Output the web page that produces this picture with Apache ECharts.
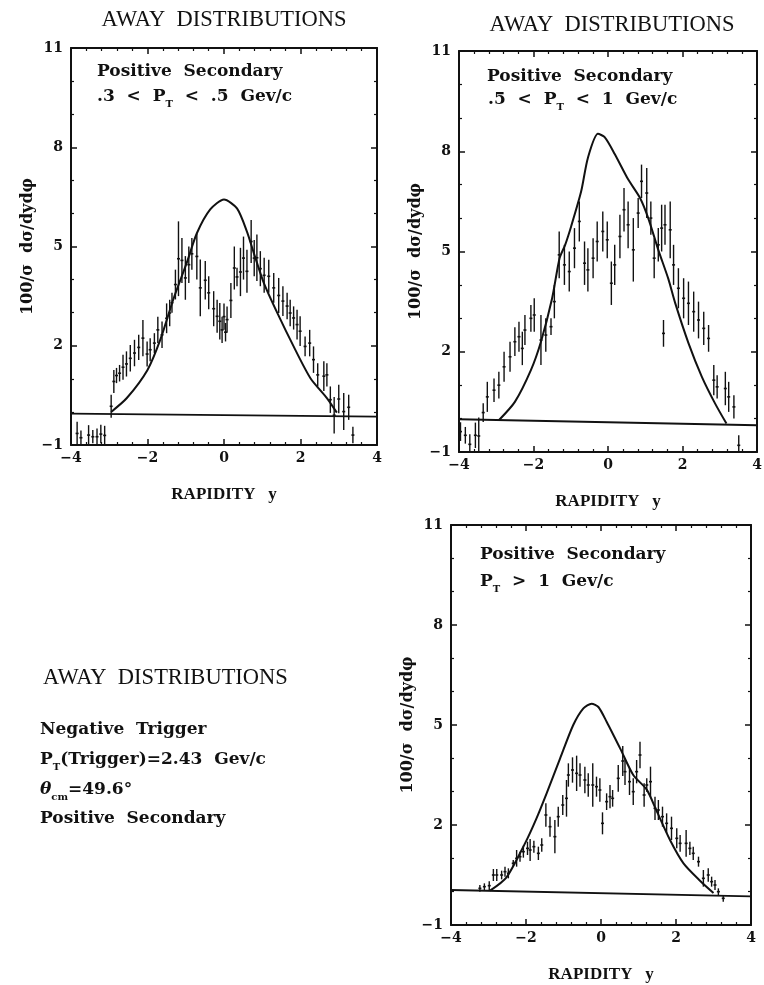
<!DOCTYPE html>
<html>
<head>
<meta charset="utf-8">
<script src="https://cdn.jsdelivr.net/npm/echarts@6/dist/echarts.min.js"></script>
<style>
  html, body { margin: 0; padding: 0; background: #fff; }
  #chart { width: 764px; height: 985px; }
</style>
</head>
<body>
<div id="chart"></div>
<script>
// axis ranges (shared by the three panels)
const xMin = -4, xMax = 4, xStep = 2;
const yMin = -1, yMax = 11, yStep = 3;

// panel 1: .3 < PT < .5
const p1X = [-3.84, -3.74, -3.54, -3.43, -3.32, -3.22, -3.12, -2.95, -2.88, -2.81, -2.73, -2.64, -2.55, -2.45, -2.34, -2.23, -2.12,
  -2.01, -1.93, -1.82, -1.73, -1.62, -1.5, -1.42, -1.36, -1.27, -1.19, -1.1, -1.01, -0.92, -0.84, -0.71, -0.62, -0.49, -0.4, -0.27, -0.18,
  -0.11, -0.05, 0.0, 0.04, 0.08, 0.18, 0.27, 0.34, 0.43, 0.51, 0.6, 0.71, 0.79, 0.86, 0.95, 1.05, 1.17, 1.3, 1.43, 1.54,
  1.65, 1.73, 1.82, 1.91, 1.99, 2.12, 2.24, 2.34, 2.45, 2.61, 2.69, 2.78, 2.88, 3.0, 3.13, 3.26, 3.37];
const p1Y = [-0.65, -0.78, -0.7, -0.75, -0.75, -0.67, -0.71, 0.17, 0.92, 1.1, 1.17, 1.35, 1.45, 1.62, 1.78, 1.95, 2.23,
  1.75, 1.88, 2.08, 2.48, 2.33, 2.83, 2.99, 3.3, 3.85, 4.63, 4.58, 4.05, 4.45, 4.78, 4.7, 3.75, 3.98, 3.6, 3.12, 2.89,
  2.74, 2.48, 2.88, 2.41, 2.79, 3.37, 4.35, 4.08, 4.23, 4.65, 4.25, 5.15, 4.65, 4.66, 4.33, 4.13, 4.1, 3.75, 3.52, 3.35,
  3.2, 2.99, 2.84, 2.64, 2.44, 1.98, 2.08, 1.58, 1.12, 1.08, 1.12, 0.37, -0.1, 0.39, 0.01, 0.14, -0.7];
const p1Err = [0.35, 0.22, 0.3, 0.2, 0.25, 0.28, 0.29, 0.35, 0.35, 0.23, 0.25, 0.38, 0.38, 0.4, 0.4, 0.38, 0.55,
  0.38, 0.35, 0.3, 0.4, 0.4, 0.45, 0.4, 0.3, 0.45, 1.13, 0.68, 0.66, 0.55, 0.48, 0.7, 0.86, 0.58, 0.5, 0.53, 0.5,
  0.55, 0.4, 0.4, 0.28, 0.4, 0.53, 0.65, 0.28, 0.73, 0.65, 0.65, 0.65, 0.55, 0.7, 0.53, 0.53, 0.5, 0.45, 0.53, 0.45,
  0.4, 0.4, 0.35, 0.45, 0.45, 0.3, 0.4, 0.4, 0.35, 0.45, 0.35, 0.4, 0.55, 0.43, 0.56, 0.38, 0.25];
const c1X = [-2.95, -2.54, -2.0, -1.66, -1.32, -0.97, -0.71, -0.36, 0.0, 0.34, 0.6, 0.78, 1.04, 1.39, 1.82, 2.26, 2.69, 2.95];
const c1Y = [0.0, 0.42, 1.27, 2.2, 3.42, 4.52, 5.4, 6.12, 6.42, 6.15, 5.45, 4.8, 3.9, 3.0, 1.98, 1.02, 0.42, -0.02];
const base1 = [-0.05, -0.14];

// panel 2: .5 < PT < 1
const p2X = [-3.96, -3.83, -3.71, -3.56, -3.47, -3.35, -3.24, -3.06, -2.93, -2.79, -2.63, -2.5, -2.39, -2.3, -2.23, -2.07, -1.98, -1.8, -1.67, -1.53,
  -1.44, -1.31, -1.17, -1.04, -0.9, -0.77, -0.63, -0.54, -0.4, -0.29, -0.14, -0.02, 0.09, 0.18, 0.32, 0.43, 0.54, 0.68, 0.81, 0.9,
  1.04, 1.15, 1.24, 1.35, 1.44, 1.49, 1.53, 1.67, 1.76, 1.89, 2.03, 2.16, 2.3, 2.43, 2.57, 2.7, 2.84, 2.93, 3.15, 3.24, 3.38, 3.51];
const p2Y = [-0.39, -0.5, -0.77, -0.5, -0.52, 0.18, 0.65, 0.85, 1.0, 1.55, 1.85, 2.3, 2.45, 2.1, 2.65, 3.0, 3.1, 2.35, 2.5, 2.75,
  3.5, 4.9, 4.6, 4.4, 5.1, 5.9, 4.65, 4.45, 4.8, 5.3, 5.6, 5.35, 4.05, 4.6, 5.45, 6.25, 5.8, 5.05, 6.15, 7.1,
  6.75, 6.0, 4.8, 5.2, 5.7, 2.55, 5.8, 5.65, 4.6, 3.9, 3.6, 3.45, 3.2, 2.95, 2.7, 2.4, 1.15, 0.95, 0.9, 0.65, 0.35, -0.8];
const p2Err = [0.28, 0.25, 0.3, 0.38, 0.55, 0.28, 0.45, 0.35, 0.4, 0.45, 0.45, 0.43, 0.45, 0.5, 0.45, 0.4, 0.5, 0.75, 0.5, 0.25,
  0.5, 0.7, 0.6, 0.6, 0.6, 0.6, 0.65, 0.65, 0.6, 0.6, 0.6, 0.55, 0.65, 0.6, 0.65, 0.65, 0.7, 0.95, 0.45, 0.5,
  0.75, 0.5, 0.6, 0.5, 0.7, 0.4, 0.6, 0.85, 0.6, 0.6, 0.6, 0.65, 0.6, 0.55, 0.5, 0.4, 0.45, 0.35, 0.5, 0.45, 0.35, 0.3];
const c2X = [-2.93, -2.5, -2.07, -1.8, -1.5, -1.3, -1.15, -0.99, -0.72, -0.54, -0.27, -0.09, 0.18, 0.54, 0.86, 1.08, 1.35, 1.62, 1.8, 2.16, 2.52, 2.88, 3.18];
const c2Y = [-0.05, 0.5, 1.45, 2.3, 3.6, 4.8, 5.2, 5.75, 6.8, 7.8, 8.52, 8.42, 7.92, 7.16, 6.6, 6.0, 5.05, 4.18, 3.47, 2.26, 1.25, 0.44, -0.15];
const base2 = [-0.02, -0.2];

// panel 3: PT > 1
const p3X = [-3.23, -3.11, -2.98, -2.87, -2.78, -2.65, -2.56, -2.47, -2.34, -2.25, -2.16, -2.07, -1.96, -1.89, -1.79, -1.67, -1.58, -1.47, -1.36, -1.23,
  -1.14, -1.02, -0.92, -0.87, -0.76, -0.65, -0.56, -0.43, -0.34, -0.22, -0.12, -0.03, 0.04, 0.15, 0.24, 0.31, 0.46, 0.58, 0.64, 0.76,
  0.86, 0.95, 1.04, 1.15, 1.22, 1.32, 1.44, 1.53, 1.64, 1.75, 1.88, 2.02, 2.11, 2.27, 2.37, 2.46, 2.6, 2.73, 2.86, 2.95, 3.04, 3.13, 3.26];
const p3Y = [0.1, 0.15, 0.18, 0.5, 0.5, 0.5, 0.6, 0.55, 0.85, 1.0, 1.05, 1.2, 1.3, 1.25, 1.35, 1.15, 1.4, 2.3, 1.95, 1.65,
  2.25, 2.6, 2.8, 3.5, 3.65, 3.55, 3.5, 3.35, 3.2, 3.2, 3.15, 3.05, 2.05, 2.7, 2.85, 2.8, 3.4, 3.92, 3.6, 3.3,
  3.0, 3.6, 4.1, 2.9, 3.2, 3.3, 2.5, 2.45, 2.25, 2.05, 1.9, 1.6, 1.45, 1.45, 1.3, 1.15, 0.9, 0.4, 0.5, 0.3, 0.2, 0.0, -0.2];
const p3Err = [0.1, 0.1, 0.13, 0.18, 0.18, 0.13, 0.15, 0.15, 0.1, 0.25, 0.15, 0.18, 0.2, 0.33, 0.18, 0.2, 0.2, 0.35, 0.3, 0.5,
  0.3, 0.3, 0.55, 0.35, 0.38, 0.53, 0.35, 0.4, 0.35, 0.65, 0.3, 0.35, 0.33, 0.25, 0.35, 0.25, 0.4, 0.45, 0.4, 0.4,
  0.4, 0.35, 0.4, 0.35, 0.2, 0.45, 0.35, 0.3, 0.3, 0.3, 0.35, 0.3, 0.25, 0.4, 0.2, 0.2, 0.15, 0.25, 0.2, 0.15, 0.15, 0.1, 0.1];
const c3X = [-2.96, -2.52, -2.03, -1.72, -1.45, -1.09, -0.74, -0.47, -0.25, -0.07, 0.15, 0.51, 0.86, 1.22, 1.48, 1.84, 2.2, 2.64, 3.0];
const c3Y = [0.03, 0.43, 1.44, 2.2, 2.95, 4.0, 5.0, 5.5, 5.64, 5.54, 5.1, 4.3, 3.5, 3.06, 2.43, 1.55, 0.85, 0.33, -0.04];
const base3 = [0.05, -0.14];

const panels = [
  { x: p1X, y: p1Y, err: p1Err, cx: c1X, cy: c1Y, base: base1 },
  { x: p2X, y: p2Y, err: p2Err, cx: c2X, cy: c2Y, base: base2 },
  { x: p3X, y: p3Y, err: p3Err, cx: c3X, cy: c3Y, base: base3 }
];

const INK = '#111';
const SERIF_B = 'DejaVu Serif';

const grids = [
  { left: 71, top: 48, width: 306, height: 397 },
  { left: 459, top: 51, width: 298, height: 401 },
  { left: 451, top: 525, width: 300, height: 400 }
];

const minus = (v) => (v < 0 ? '\u2212' + (-v) : String(v));

const lineCommon = {
  axisLine: { show: true, onZero: false, lineStyle: { color: INK, width: 2 } },
  axisTick: { show: true, inside: true, length: 6, lineStyle: { color: INK, width: 1.5 } },
  splitLine: { show: false },
  minorSplitLine: { show: false }
};
const tickText = { color: INK, fontFamily: SERIF_B, fontWeight: 'bold', fontSize: 14 };

const xAxes = [];
const yAxes = [];
grids.forEach((g, i) => {
  const xc = Object.assign({ type: 'value', gridIndex: i, min: xMin, max: xMax, interval: xStep,
    minorTick: { show: true, splitNumber: 5, length: 3, lineStyle: { color: INK, width: 1.2 } } }, lineCommon);
  xAxes.push(Object.assign({}, xc, {
    position: 'bottom',
    name: 'RAPIDITY   y',
    nameLocation: 'middle',
    nameGap: 41,
    nameTextStyle: { color: INK, fontFamily: 'Liberation Serif', fontWeight: 'bold', fontSize: 17 },
    axisLabel: Object.assign({ margin: 6, formatter: minus }, tickText)
  }));
  xAxes.push(Object.assign({}, xc, { position: 'top', axisLabel: { show: false } }));

  const yc = Object.assign({ type: 'value', gridIndex: i, min: yMin, max: yMax, interval: yStep,
    minorTick: { show: true, splitNumber: 3, length: 3, lineStyle: { color: INK, width: 1.2 } } }, lineCommon);
  yAxes.push(Object.assign({}, yc, {
    position: 'left',
    name: '100/\u03c3  d\u03c3/dyd\u03c6',
    nameLocation: 'middle',
    nameRotate: 90,
    nameGap: 35,
    nameTextStyle: { color: INK, fontFamily: SERIF_B, fontWeight: 'bold', fontSize: 16 },
    axisLabel: Object.assign({ margin: 8, formatter: minus }, tickText)
  }));
  yAxes.push(Object.assign({}, yc, { position: 'right', axisLabel: { show: false } }));
});

function renderBar(params, api) {
  const x = api.value(0), y = api.value(1), e = api.value(2);
  const hi = api.coord([x, y + e]);
  const lo = api.coord([x, y - e]);
  const mid = api.coord([x, y]);
  return {
    type: 'group',
    children: [
      { type: 'line', shape: { x1: hi[0], y1: hi[1], x2: lo[0], y2: lo[1] }, style: { stroke: INK, lineWidth: 1.4 } },
      { type: 'line', shape: { x1: mid[0] - 1.5, y1: mid[1], x2: mid[0] + 1.5, y2: mid[1] }, style: { stroke: INK, lineWidth: 1.6 } }
    ]
  };
}

const series = [];
panels.forEach((p, i) => {
  series.push({
    type: 'line', xAxisIndex: 2 * i, yAxisIndex: 2 * i,
    data: p.cx.map((x, k) => [x, p.cy[k]]),
    smooth: 0.25, showSymbol: false, symbol: 'none', silent: true,
    lineStyle: { color: INK, width: 2 }
  });
  series.push({
    type: 'line', xAxisIndex: 2 * i, yAxisIndex: 2 * i,
    data: [[xMin, p.base[0]], [xMax, p.base[1]]],
    showSymbol: false, symbol: 'none', silent: true,
    lineStyle: { color: INK, width: 1.8 }
  });
  series.push({
    type: 'custom', xAxisIndex: 2 * i, yAxisIndex: 2 * i,
    data: p.x.map((x, k) => [x, p.y[k], p.err[k]]),
    renderItem: renderBar, clip: true, silent: true
  });
});

// text helpers
const bodyRich = {
  a: { fontFamily: SERIF_B, fontWeight: 'bold', fontSize: 17, fill: INK, lineHeight: 24 },
  s: { fontFamily: SERIF_B, fontWeight: 'bold', fontSize: 10, fill: INK, verticalAlign: 'bottom' },
  i: { fontFamily: SERIF_B, fontWeight: 'bold', fontStyle: 'italic', fontSize: 17, fill: INK, lineHeight: 24 }
};
function label(x, y, text) {
  return { type: 'text', x: x, y: y, silent: true,
    style: { text: text, rich: bodyRich, verticalAlign: 'middle', align: 'left', fill: INK } };
}
function heading(x, y, align) {
  return { type: 'text', x: x, y: y, silent: true,
    style: { text: 'AWAY  DISTRIBUTIONS', font: '22.5px "Liberation Serif"', fill: INK, align: align, verticalAlign: 'middle' } };
}

const graphic = [
  heading(224, 20, 'center'),
  heading(612, 25, 'center'),
  heading(43, 678, 'left'),
  label(97, 72, '{a|Positive  Secondary}'),
  label(97, 97, '{a|.3  <  P}{s|T}{a|  <  .5  Gev/c}'),
  label(487, 77, '{a|Positive  Secondary}'),
  label(488, 100, '{a|.5  <  P}{s|T}{a|  <  1  Gev/c}'),
  label(480, 555, '{a|Positive  Secondary}'),
  label(480, 582, '{a|P}{s|T}{a|  >  1  Gev/c}'),
  label(40, 730, '{a|Negative  Trigger}'),
  label(40, 760, '{a|P}{s|T}{a|(Trigger)=2.43  Gev/c}'),
  label(40, 790, '{i|\u03b8}{s|cm}{a|=49.6\u00b0}'),
  label(40, 819, '{a|Positive  Secondary}')
];

const chart = echarts.init(document.getElementById('chart'), null, { renderer: 'canvas' });
chart.setOption({
  backgroundColor: '#fff',
  animation: false,
  grid: grids.map((g) => Object.assign({ containLabel: false, outerBoundsMode: 'none' }, g)),
  xAxis: xAxes,
  yAxis: yAxes,
  series: series,
  graphic: graphic
});
</script>
</body>
</html>
